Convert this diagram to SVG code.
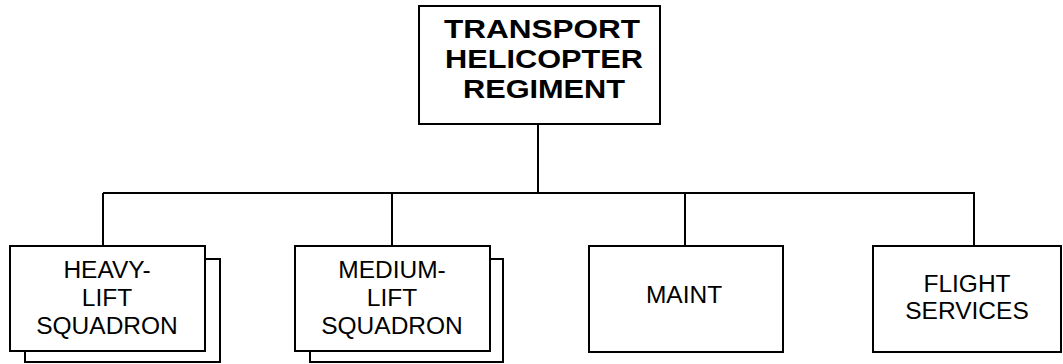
<svg xmlns="http://www.w3.org/2000/svg" width="1063" height="364" viewBox="0 0 1063 364">
<style>
.box{fill:#fff;stroke:#000;stroke-width:2}
.conn{fill:none;stroke:#000;stroke-width:2}
.t{font-family:"Liberation Sans",Arial,sans-serif;font-size:24.5px;fill:#000;text-anchor:middle}
.tb{font-family:"Liberation Sans",Arial,sans-serif;font-size:26px;font-weight:bold;fill:#000;text-anchor:middle}
</style>
<rect width="1063" height="364" fill="#fff"/>
<g id="connectors">
<line class="conn" x1="538" y1="124" x2="538" y2="193"/>
<line class="conn" x1="103" y1="193" x2="975" y2="193"/>
<line class="conn" x1="103" y1="193" x2="103" y2="246"/>
<line class="conn" x1="392" y1="193" x2="392" y2="246"/>
<line class="conn" x1="685" y1="193" x2="685" y2="246"/>
<line class="conn" x1="974" y1="193" x2="974" y2="246"/>
</g>
<g id="regiment">
<rect class="box" x="419" y="6" width="241" height="118"/>
<text class="tb" x="542" y="38" textLength="196" lengthAdjust="spacingAndGlyphs">TRANSPORT</text>
<text class="tb" x="544" y="68" textLength="198" lengthAdjust="spacingAndGlyphs">HELICOPTER</text>
<text class="tb" x="544" y="98" textLength="162" lengthAdjust="spacingAndGlyphs">REGIMENT</text>
</g>
<g id="heavy-lift">
<rect class="box" x="25" y="259" width="195" height="103"/>
<rect class="box" x="10" y="246" width="195" height="105"/>
<text class="t" x="107" y="278">HEAVY-</text>
<text class="t" x="107" y="306">LIFT</text>
<text class="t" x="107" y="334">SQUADRON</text>
</g>
<g id="medium-lift">
<rect class="box" x="310" y="259" width="193" height="103"/>
<rect class="box" x="295" y="246" width="195" height="105"/>
<text class="t" x="392" y="278">MEDIUM-</text>
<text class="t" x="392" y="306">LIFT</text>
<text class="t" x="392" y="334">SQUADRON</text>
</g>
<g id="maint">
<rect class="box" x="589" y="246" width="194" height="106"/>
<text class="t" x="684" y="303">MAINT</text>
</g>
<g id="flight-services">
<rect class="box" x="873" y="246" width="188" height="106"/>
<text class="t" x="967" y="292">FLIGHT</text>
<text class="t" x="967" y="319">SERVICES</text>
</g>
</svg>
